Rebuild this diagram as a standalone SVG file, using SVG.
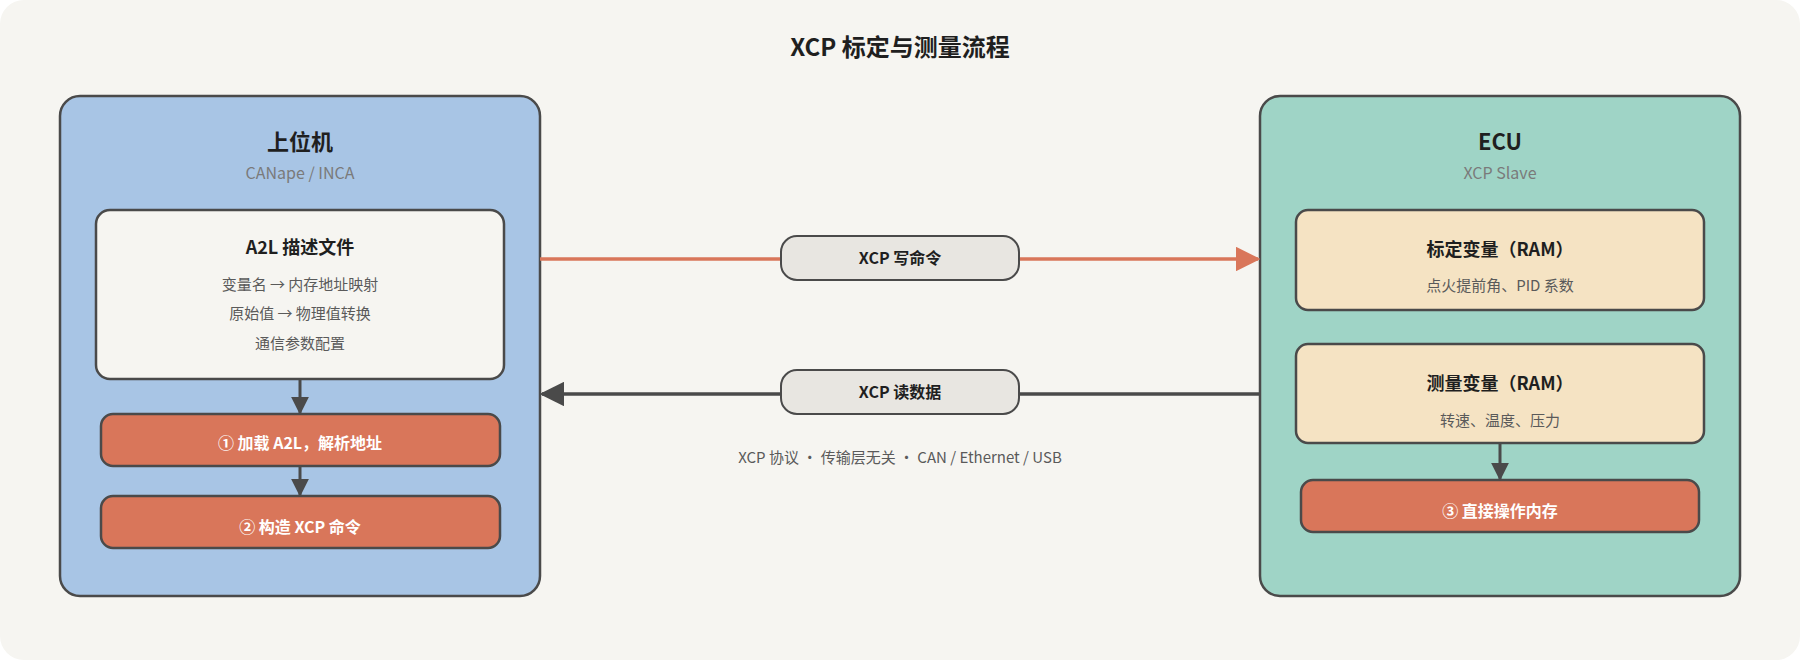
<svg xmlns="http://www.w3.org/2000/svg" width="1800" height="660" viewBox="0 0 1800 660">
<style>
text{font-family:"Noto Sans CJK SC","Noto Sans",sans-serif;text-anchor:middle}
.panel{stroke:#4a4a4a;stroke-width:2.5}
.t1{font-size:24px;font-weight:bold;fill:#1f1f1f}
.t2{font-size:22px;font-weight:bold;fill:#1f1f1f}
.sub{font-size:16px;fill:#7a7a7a}
.bt{font-size:18px;font-weight:bold;fill:#1f1f1f}
.ln{font-size:15px;fill:#5a5a5a}
.ob{fill:#d9765a;stroke:#4a4a4a;stroke-width:2.5}
.ot{font-size:16px;font-weight:bold;fill:#fff}
.pill{fill:#e8e6e1;stroke:#4a4a4a;stroke-width:2}
.pt{font-size:16px;font-weight:bold;fill:#1f1f1f}
</style>
<defs>
<marker id="ao" viewBox="0 0 10 10" refX="9" refY="5" markerWidth="7" markerHeight="7" markerUnits="strokeWidth" orient="auto"><path d="M0,0L10,5L0,10z" fill="#d9765a"/></marker>
<marker id="ad" viewBox="0 0 10 10" refX="9" refY="5" markerWidth="7" markerHeight="7" markerUnits="strokeWidth" orient="auto"><path d="M0,0L10,5L0,10z" fill="#4a4a4a"/></marker>
<marker id="as" viewBox="0 0 10 10" refX="9" refY="5" markerWidth="6" markerHeight="6" markerUnits="strokeWidth" orient="auto"><path d="M0,0L10,5L0,10z" fill="#4a4a4a"/></marker>
</defs>
<rect x="0" y="0" width="1800" height="660" rx="24" fill="#f6f5f1"/>
<text class="t1" x="900" y="56">XCP 标定与测量流程</text>
<g id="host">
<rect class="panel" x="60" y="96" width="480" height="500" rx="20" fill="#a8c5e5"/>
<text class="t2" x="300" y="150">上位机</text>
<text class="sub" x="300" y="179">CANape / INCA</text>
</g>
<g id="a2l">
<rect class="panel" x="96" y="210" width="408" height="169" rx="14" fill="#f6f5f1"/>
<text class="bt" x="300" y="254">A2L 描述文件</text>
<text class="ln" x="300" y="290">变量名 → 内存地址映射</text>
<text class="ln" x="300" y="319">原始值 → 物理值转换</text>
<text class="ln" x="300" y="349">通信参数配置</text>
</g>
<g id="step1"><rect class="ob" x="101" y="414" width="399" height="52" rx="12"/><text class="ot" x="300" y="449">① 加载 A2L，解析地址</text></g>
<g id="step2"><rect class="ob" x="101" y="496" width="399" height="52" rx="12"/><text class="ot" x="300" y="533">② 构造 XCP 命令</text></g>
<g id="ecu">
<rect class="panel" x="1260" y="96" width="480" height="500" rx="20" fill="#9fd4c6"/>
<text class="t2" x="1500" y="150">ECU</text>
<text class="sub" x="1500" y="179">XCP Slave</text>
</g>
<g id="calib"><rect class="panel" x="1296" y="210" width="408" height="100" rx="12" fill="#f5e3c3"/><text class="bt" x="1500" y="256">标定变量（RAM）</text><text class="ln" x="1500" y="291">点火提前角、PID 系数</text></g>
<g id="meas"><rect class="panel" x="1296" y="344" width="408" height="99" rx="12" fill="#f5e3c3"/><text class="bt" x="1500" y="390">测量变量（RAM）</text><text class="ln" x="1500" y="426">转速、温度、压力</text></g>
<g id="step3"><rect class="ob" x="1301" y="480" width="398" height="52" rx="12"/><text class="ot" x="1500" y="517">③ 直接操作内存</text></g>
<g id="connectors">
<line x1="540" y1="259" x2="1258" y2="259" stroke="#d9765a" stroke-width="3.5" marker-end="url(#ao)"/>
<line x1="1260" y1="394" x2="542" y2="394" stroke="#4a4a4a" stroke-width="3.5" marker-end="url(#ad)"/>
<line x1="300" y1="379" x2="300" y2="413" stroke="#4a4a4a" stroke-width="3" marker-end="url(#as)"/>
<line x1="300" y1="466" x2="300" y2="495" stroke="#4a4a4a" stroke-width="3" marker-end="url(#as)"/>
<line x1="1500" y1="443" x2="1500" y2="479" stroke="#4a4a4a" stroke-width="3" marker-end="url(#as)"/>
<rect class="pill" x="781" y="236" width="238" height="44" rx="16"/><text class="pt" x="900" y="264">XCP 写命令</text>
<rect class="pill" x="781" y="370" width="238" height="44" rx="16"/><text class="pt" x="900" y="398">XCP 读数据</text>
</g>
<text class="ln" x="900" y="463">XCP 协议 · 传输层无关 · CAN / Ethernet / USB</text>
</svg>
